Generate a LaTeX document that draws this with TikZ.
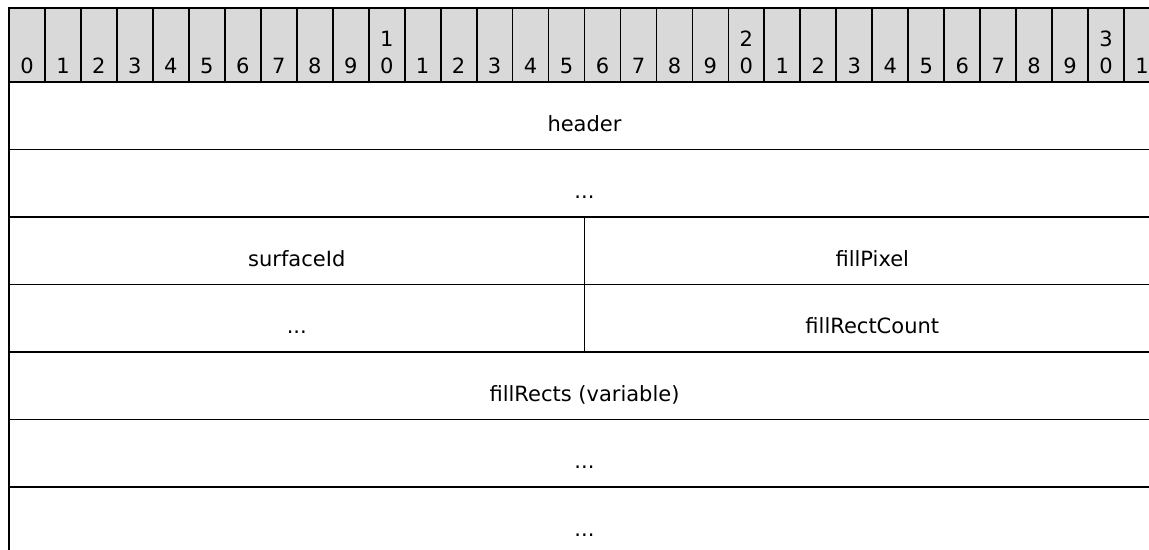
\documentclass[tikz,border=0pt]{standalone}
\usepackage{fontspec}
\setmainfont{DejaVu Sans}
\usepackage{tikz}
\definecolor{rulergray}{RGB}{217,217,217}

\begin{document}
\begin{tikzpicture}[x=0.5pt,y=-0.5pt,
  every node/.style={font=\fontsize{10.5}{12}\selectfont},
  bitcell/.style={draw,line width=0.9pt,fill=rulergray,minimum width=17.985pt,minimum height=37pt,inner sep=0pt,outer sep=0pt},
  field/.style={draw,line width=0.9pt,inner sep=0pt,outer sep=0pt,minimum height=33.75pt,text height=15.7pt,text depth=0pt},
  wide/.style={field,minimum width=575.5pt},
  half/.style={field,minimum width=287.76pt}]
\useasboundingbox (0,0) rectangle (1149,550);
\clip (0,0) rectangle (1149,550);
% bit ruler
\foreach \i in {0,...,31} {
  \node [bitcell] (bit\i) at ({9+35.97*(\i+0.5)},45) {};
  \pgfmathtruncatemacro\u{mod(\i,10)}
  \pgfmathtruncatemacro\t{\i/10}
  \node [anchor=base] (unit\i) at ({9+35.97*(\i+0.5)},74) {\u};
  \ifnum\u=0 \ifnum\i>0
    \node [anchor=base] (ten\i) at ({9+35.97*(\i+0.5)},47) {\t};
  \fi\fi
}
% fields
\node [wide] (header) at (584.5,115.75) {header};
\node [wide] (more1) at (584.5,183.25) {...};
\node [half] (surfaceid) at (296.76,250.75) {surfaceId};
\node [half] (fillpixel) at (872.26,250.75) {fillPixel};
\node [half] (more2) at (296.76,318.25) {...};
\node [half] (rectcount) at (872.26,318.25) {fillRectCount};
\node [wide] (fillrects) at (584.5,385.75) {fillRects (variable)};
\node [wide] (more3) at (584.5,453.25) {...};
\node [wide] (more4) at (584.5,520.75) {...};
\end{tikzpicture}
\end{document}
